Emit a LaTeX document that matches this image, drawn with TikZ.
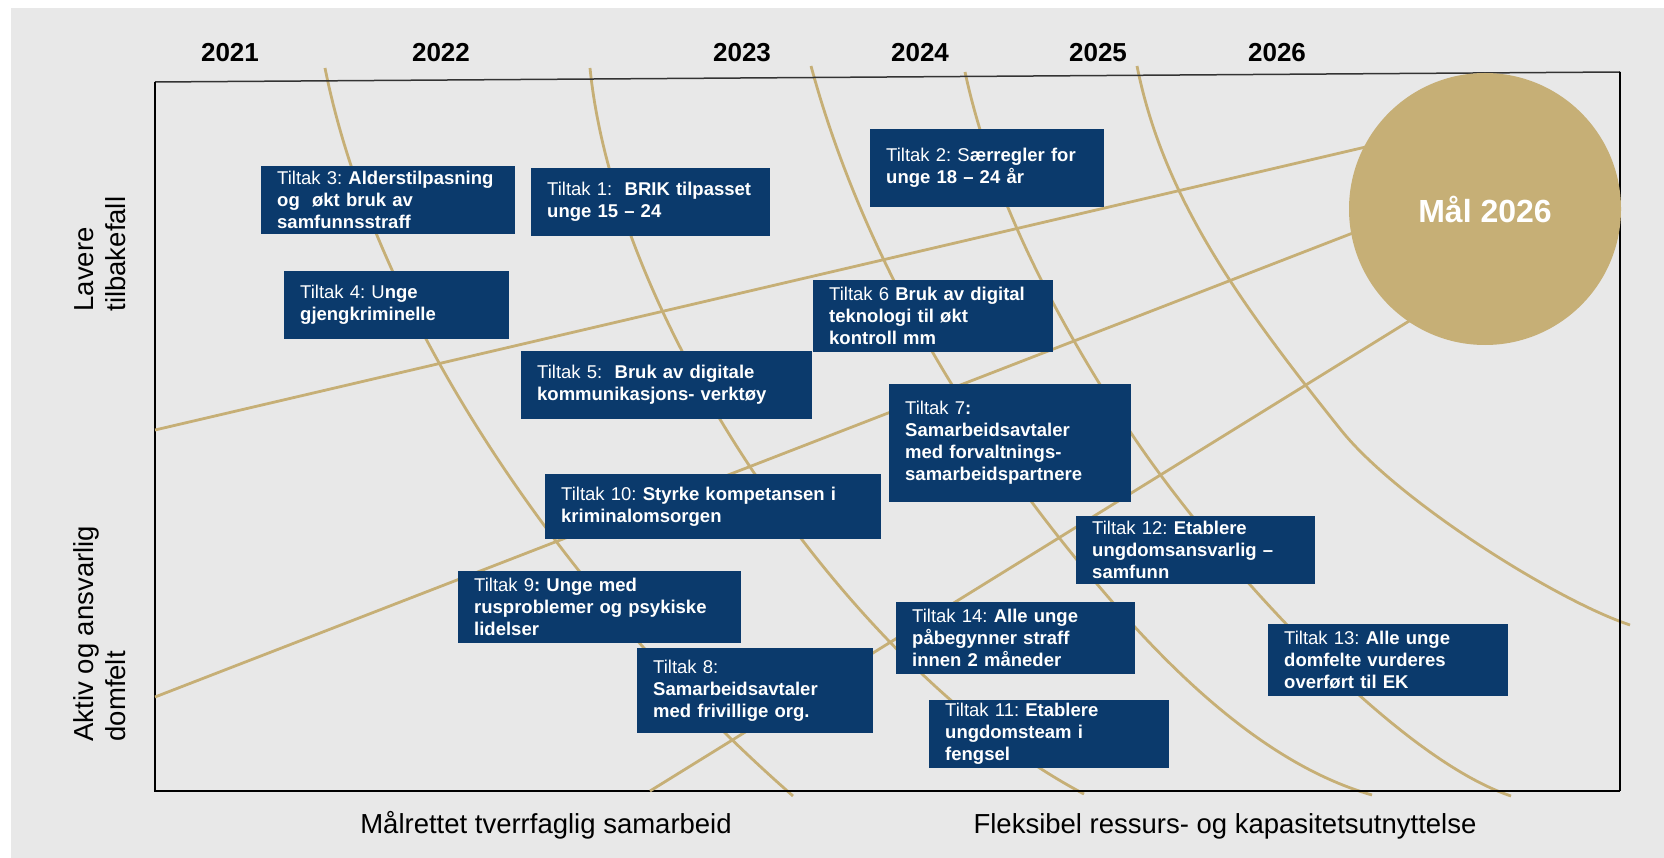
\documentclass[tikz,border=0pt]{standalone}
\usepackage{fontspec}
\setmainfont{Liberation Sans}
\definecolor{navy}{HTML}{0B3A6C}
\definecolor{gold}{HTML}{C6AF76}
\definecolor{bgray}{HTML}{E8E8E8}
\frenchspacing
\begin{document}
\begin{tikzpicture}[x=1pt,y=-1pt,
  tbox/.style={fill=navy,text=white,inner xsep=16pt,inner ysep=0pt,align=left,anchor=north west,font=\fontsize{18.5}{22}\selectfont},
  year/.style={font=\fontsize{26}{30}\selectfont\bfseries,anchor=center},
  axlab/.style={font=\fontsize{27.5}{32}\selectfont,anchor=base},
  sidelab/.style={font=\fontsize{27.5}{32}\selectfont,rotate=90,anchor=base west},
  goldline/.style={draw=gold,line width=2.8pt},
  goal/.style={circle,fill=gold,text=white,minimum size=272pt,inner sep=0pt,font=\fontsize{32}{36}\selectfont\bfseries}]
\useasboundingbox (0,0) rectangle (1664,858);
\fill[bgray] (11,8) rectangle (1664,858);

% curved year lines
\draw[goldline] (325,68) .. controls (375,318) and (565,596) .. (793,796);
\draw[goldline] (590,68) .. controls (616,328) and (856,674) .. (1084,794);
\draw[goldline] (811,66) .. controls (857,236) and (953,414) .. (1097,584)
                         .. controls (1173,674) and (1267,765) .. (1372,795);
\draw[goldline] (965,72) .. controls (991,192) and (1050,310) .. (1129,430)
                         .. controls (1208,550) and (1391,756) .. (1511,796);
\draw[goldline] (1137,66) .. controls (1163,196) and (1237,300) .. (1341,430)
                          .. controls (1397,500) and (1555,600) .. (1630,625);

% frame
\draw[black!80,line width=1.5pt] (155,82) -- (1620,72);
\draw[black,line width=1.8pt] (155,82) -- (155,791) -- (1620,791);
\draw[black,line width=1.1pt] (1620,72) -- (1620,791);

% straight lines towards the goal
\coordinate (l1) at (155,430);
\coordinate (l2) at (155,697);
\coordinate (l3) at (650,791);
\coordinate (e1) at (1370,146);
\coordinate (e2) at (1358,231);
\coordinate (e3) at (1414,318);
\draw[goldline] (l1) -- (e1);
\draw[goldline] (l2) -- (e2);
\draw[goldline] (l3) -- (e3);
\node[goal] (goal) at (1485,209) {Mål 2026};

% years
\node[year] (y21) at (230,53) {2021};
\node[year] (y22) at (441,53) {2022};
\node[year] (y23) at (742,53) {2023};
\node[year] (y24) at (920,53) {2024};
\node[year] (y25) at (1098,53) {2025};
\node[year] (y26) at (1277,53) {2026};

% axis labels
\node[axlab] (xl1) at (546,833) {Målrettet tverrfaglig samarbeid};
\node[axlab] (xl2) at (1225,833) {Fleksibel ressurs- og kapasitetsutnyttelse};
\node[sidelab] (yl1a) at (93,315) {Lavere};
\node[sidelab] (yl1b) at (125,315) {tilbakefall};
\node[sidelab] (yl2a) at (93,745) {Aktiv og ansvarlig};
\node[sidelab] (yl2b) at (125,745) {domfelt};

% boxes
\node[tbox,text width=222pt,minimum height=68pt] (t3) at (261,166) {Tiltak 3: \textbf{Alderstilpasning}\\\textbf{og~ økt bruk av}\\\textbf{samfunnsstraff}};
\node[tbox,text width=207pt,minimum height=68pt] (t1) at (531,168) {Tiltak 1:~ \textbf{BRIK tilpasset}\\\textbf{unge 15 – 24}};
\node[tbox,text width=202pt,minimum height=78pt] (t2) at (870,129) {Tiltak 2: S\textbf{ærregler for}\\\textbf{unge 18 – 24 år}};
\node[tbox,text width=193pt,minimum height=68pt] (t4) at (284,271) {Tiltak 4: U\textbf{nge}\\\textbf{gjengkriminelle}};
\node[tbox,text width=259pt,minimum height=68pt] (t5) at (521,351) {Tiltak 5:~ \textbf{Bruk av digitale}\\\textbf{kommunikasjons- verktøy}};
\node[tbox,text width=208pt,minimum height=72pt] (t6) at (813,280) {Tiltak 6 \textbf{Bruk av digital}\\\textbf{teknologi til økt}\\\textbf{kontroll mm}};
\node[tbox,text width=210pt,minimum height=118pt] (t7) at (889,384) {Tiltak 7\textbf{:}\\\textbf{Samarbeidsavtaler}\\\textbf{med forvaltnings-}\\\textbf{samarbeidspartnere}};
\node[tbox,text width=304pt,minimum height=65pt] (t10) at (545,474) {Tiltak 10: \textbf{Styrke kompetansen i}\\\textbf{kriminalomsorgen}};
\node[tbox,text width=251pt,minimum height=72pt] (t9) at (458,571) {Tiltak 9\textbf{: Unge med}\\\textbf{rusproblemer og psykiske}\\\textbf{lidelser}};
\node[tbox,text width=204pt,minimum height=85pt] (t8) at (637,648) {Tiltak 8:\\\textbf{Samarbeidsavtaler}\\\textbf{med frivillige org.}};
\node[tbox,text width=207pt,minimum height=68pt] (t12) at (1076,516) {Tiltak 12: \textbf{Etablere}\\\textbf{ungdomsansvarlig –}\\\textbf{samfunn}};
\node[tbox,text width=207pt,minimum height=72pt] (t14) at (896,602) {Tiltak 14: \textbf{Alle unge}\\\textbf{påbegynner straff}\\\textbf{innen 2 måneder}};
\node[tbox,text width=208pt,minimum height=68pt] (t11) at (929,700) {Tiltak 11: \textbf{Etablere}\\\textbf{ungdomsteam i}\\\textbf{fengsel}};
\node[tbox,text width=208pt,minimum height=72pt] (t13) at (1268,624) {Tiltak 13: \textbf{Alle unge}\\\textbf{domfelte vurderes}\\\textbf{overført til EK}};
\end{tikzpicture}
\end{document}
